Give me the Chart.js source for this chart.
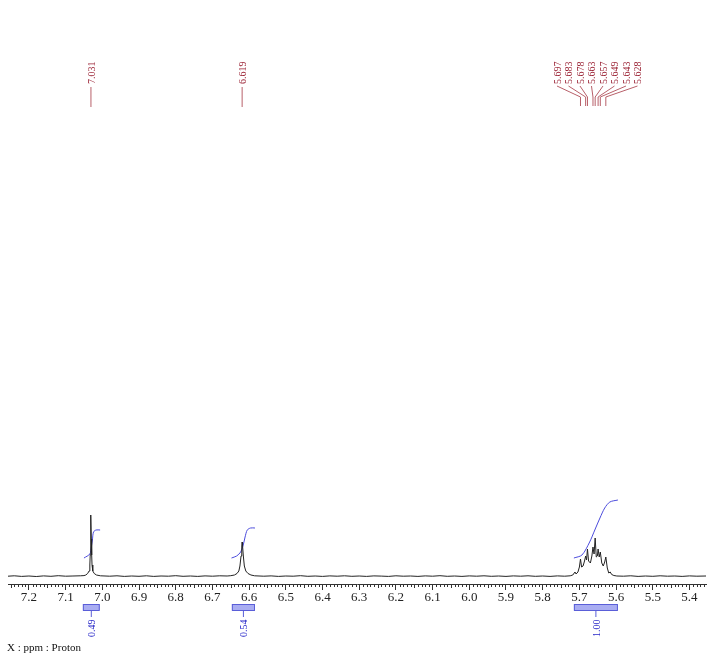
<!DOCTYPE html>
<html>
<head>
<meta charset="utf-8">
<script src="https://cdn.jsdelivr.net/npm/chart.js@4/dist/chart.umd.min.js"></script>
<style>
  body { margin: 0; background: #fff; }
  #wrap { width: 708px; height: 663px; position: relative; }
</style>
</head>
<body>
<div id="wrap"><canvas id="nmr" width="708" height="663"></canvas></div>
<script>
// Spectrum trace, [ppm, intensity]
const spectrum = [
  [7.257, 0.8], [7.24, 1.2], [7.22, 0.6], [7.20, 1.0], [7.18, 0.5], [7.16, 1.1], [7.14, 0.7],
  [7.12, 1.3], [7.10, 0.8], [7.08, 1.0], [7.06, 1.2], [7.05, 1.4],
  [7.045, 2], [7.040, 3.5], [7.036, 6], [7.034, 12], [7.033, 22], [7.032, 38], [7.031, 62],
  [7.030, 38], [7.029, 22], [7.028, 12], [7.026, 6], [7.022, 3.5], [7.016, 2], [7.005, 1.2],
  [6.98, 0.8], [6.96, 1.2], [6.94, 0.6], [6.92, 1.0], [6.90, 0.7], [6.88, 1.2], [6.86, 0.6],
  [6.84, 1.0], [6.82, 0.8], [6.80, 1.3], [6.78, 0.7], [6.76, 1.0], [6.74, 0.6], [6.72, 1.1],
  [6.70, 0.8], [6.68, 1.2], [6.66, 1.0], [6.65, 1.3],
  [6.640, 2], [6.633, 3.5], [6.628, 6], [6.625, 11], [6.622, 21], [6.620, 31], [6.619, 35],
  [6.618, 32], [6.616, 22], [6.613, 11], [6.609, 6], [6.603, 3.5], [6.595, 2], [6.585, 1.2],
  [6.56, 0.8], [6.54, 1.1], [6.52, 0.6], [6.50, 1.0], [6.48, 0.8], [6.46, 1.3], [6.44, 0.7],
  [6.42, 1.0], [6.40, 0.6], [6.38, 1.1], [6.36, 0.8], [6.34, 1.2], [6.32, 0.7], [6.30, 1.0],
  [6.28, 0.6], [6.26, 1.1], [6.24, 0.9], [6.22, 0.6], [6.20, 1.2], [6.18, 0.8], [6.16, 1.0],
  [6.14, 0.6], [6.12, 1.1], [6.10, 0.8], [6.08, 1.3], [6.06, 0.7], [6.04, 1.0], [6.02, 0.6],
  [6.00, 1.1], [5.98, 0.8], [5.96, 1.2], [5.94, 0.7], [5.92, 1.0], [5.90, 0.6], [5.88, 1.1],
  [5.86, 0.8], [5.84, 1.2], [5.82, 0.7], [5.80, 1.0], [5.78, 0.6], [5.76, 1.1], [5.74, 0.8],
  [5.725, 1.2],
  [5.718, 2], [5.712, 5], [5.709, 3], [5.704, 5], [5.700, 10], [5.697, 18], [5.694, 10],
  [5.690, 11], [5.686, 16], [5.683, 21], [5.6805, 17], [5.678, 28], [5.675, 16], [5.670, 14],
  [5.666, 21], [5.663, 30], [5.660, 23], [5.657, 39], [5.654, 20], [5.651, 21], [5.649, 28],
  [5.646, 20], [5.643, 25], [5.639, 14], [5.635, 11], [5.631, 15], [5.628, 20], [5.624, 9],
  [5.620, 4], [5.616, 5], [5.612, 2.5], [5.606, 1.5], [5.598, 1.0],
  [5.58, 0.8], [5.56, 1.2], [5.54, 0.6], [5.52, 1.0], [5.50, 0.7], [5.48, 1.2], [5.46, 0.8],
  [5.44, 1.0], [5.42, 0.6], [5.40, 1.1], [5.38, 0.8], [5.355, 1.0]
];

// Integral curves (blue), [ppm, level]
const integral1 = [[7.050, 19], [7.034, 23], [7.030, 30], [7.027, 37], [7.024, 45], [7.017, 47], [7.006, 47]];
const integral2 = [[6.648, 19], [6.634, 21], [6.623, 25], [6.616, 32], [6.611, 40], [6.605, 47], [6.596, 49], [6.584, 49]];
const integral3 = [[5.715, 19], [5.693, 22], [5.672, 35], [5.658, 47], [5.644, 59], [5.631, 69], [5.617, 75], [5.595, 77]];

// Integral ranges and their values
const integralRanges = [[7.053, 7.007], [6.647, 6.584], [5.715, 5.595]];
const integralValues = ['0.49', '0.54', '1.00'];

// Peak pick labels
const peakLabels = [7.031, 6.619, 5.697, 5.683, 5.678, 5.663, 5.657, 5.649, 5.643, 5.628];

// Axis tick labels
const majorTicks = [7.2, 7.1, 7.0, 6.9, 6.8, 6.7, 6.6, 6.5, 6.4, 6.3, 6.2, 6.1, 6.0, 5.9, 5.8, 5.7, 5.6, 5.5, 5.4];

const SERIF = '"Liberation Serif", "DejaVu Serif", serif';
const toXY = arr => arr.map(p => ({ x: p[0], y: p[1] }));

const nmrDecor = {
  id: 'nmrDecor',
  afterDraw(chart) {
    const ctx = chart.ctx;
    const xs = chart.scales.x;
    const bottom = chart.chartArea.bottom;

    ctx.save();
    // minor ticks every 0.01 ppm
    ctx.strokeStyle = '#333';
    ctx.lineWidth = 1;
    ctx.beginPath();
    for (let i = Math.ceil(xs.min * 100); i <= Math.floor(xs.max * 100); i++) {
      if (i % 10 === 0) continue;
      const px = Math.round(xs.getPixelForValue(i / 100)) + 0.5;
      const len = i % 5 === 0 ? 4 : 3;
      ctx.moveTo(px, bottom);
      ctx.lineTo(px, bottom + len);
    }
    ctx.stroke();

    // peak labels at the top
    const pts = peakLabels.map(v => ({ v, px: xs.getPixelForValue(v) })).sort((a, b) => a.px - b.px);
    const groups = [];
    pts.forEach(p => {
      const g = groups[groups.length - 1];
      if (g && p.px - g[g.length - 1].px < 12) g.push(p); else groups.push([p]);
    });
    ctx.font = '10px ' + SERIF;
    ctx.textAlign = 'left';
    ctx.textBaseline = 'middle';
    groups.forEach(g => {
      const spacing = 11.5;
      const mean = g.reduce((s, p) => s + p.px, 0) / g.length + (g.length > 1 ? 4 : 0);
      g.forEach((p, i) => {
        const lx = g.length > 1 ? mean + (i - (g.length - 1) / 2) * spacing : p.px;
        ctx.strokeStyle = '#b8606a';
        ctx.beginPath();
        if (g.length > 1) {
          ctx.moveTo(lx, 86);
          ctx.lineTo(p.px, 97);
          ctx.lineTo(p.px, 106);
        } else {
          ctx.moveTo(p.px, 87);
          ctx.lineTo(p.px, 107);
        }
        ctx.stroke();
        ctx.fillStyle = '#9b2335';
        ctx.save();
        ctx.translate(lx + 1, 84);
        ctx.rotate(-Math.PI / 2);
        ctx.fillText(p.v.toFixed(3), 0, 0);
        ctx.restore();
      });
    });

    // integral boxes and values
    integralRanges.forEach((r, i) => {
      const x0 = xs.getPixelForValue(r[0]);
      const x1 = xs.getPixelForValue(r[1]);
      const cx = (x0 + x1) / 2;
      ctx.fillStyle = '#a9adf2';
      ctx.fillRect(x0, 604, x1 - x0, 6);
      ctx.strokeStyle = '#5a5ed8';
      ctx.strokeRect(x0 + 0.5, 604.5, x1 - x0 - 1, 6);
      ctx.beginPath();
      ctx.moveTo(cx, 610);
      ctx.lineTo(cx, 617);
      ctx.stroke();
      ctx.fillStyle = '#2626c8';
      ctx.save();
      ctx.translate(cx + 1, 637);
      ctx.rotate(-Math.PI / 2);
      ctx.fillText(integralValues[i], 0, 0);
      ctx.restore();
    });

    // axis caption
    ctx.fillStyle = '#111';
    ctx.font = '11px ' + SERIF;
    ctx.textBaseline = 'middle';
    ctx.fillText('X : ppm : Proton', 7, 648);
    ctx.restore();
  }
};

const integralStyle = { borderColor: '#4b4bdc', borderWidth: 1, pointRadius: 0, tension: 0.3, fill: false };

new Chart(document.getElementById('nmr'), {
  type: 'line',
  data: {
    datasets: [
      { data: toXY(spectrum), borderColor: '#222', borderWidth: 1, pointRadius: 0, tension: 0, fill: false },
      Object.assign({ data: toXY(integral1) }, integralStyle),
      Object.assign({ data: toXY(integral2) }, integralStyle),
      Object.assign({ data: toXY(integral3) }, integralStyle)
    ]
  },
  options: {
    responsive: false,
    devicePixelRatio: 1,
    animation: false,
    layout: { padding: { left: 8, right: 2, top: 0, bottom: 0 } },
    plugins: { legend: { display: false }, tooltip: { enabled: false } },
    scales: {
      x: {
        type: 'linear',
        reverse: true,
        min: 5.355,
        max: 7.257,
        afterBuildTicks: scale => { scale.ticks = majorTicks.map(v => ({ value: v })); },
        afterFit: scale => { scale.height = 79; },
        border: { display: true, color: '#333', width: 1 },
        grid: { display: true, drawOnChartArea: false, drawTicks: true, tickLength: 6, color: '#333' },
        ticks: {
          autoSkip: false,
          maxRotation: 0,
          padding: 0,
          color: '#222',
          font: { family: SERIF, size: 13 },
          callback: v => Number(v).toFixed(1)
        }
      },
      y: { display: false, min: -7, max: 577 }
    }
  },
  plugins: [nmrDecor]
});
</script>
</body>
</html>
